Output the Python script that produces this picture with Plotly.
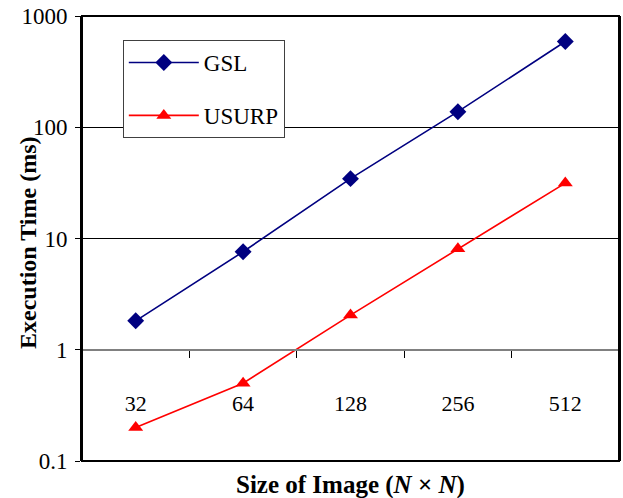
import plotly.graph_objects as go

categories = ["32", "64", "128", "256", "512"]
gsl = [1.82, 7.6, 34.5, 138, 590]
usurp = [0.2, 0.5, 2.05, 8.1, 31.5]
y_tickvals = [0.1, 1, 10, 100, 1000]
y_ticktext = ["0.1", "1", "10", "100", "1000"]

FONT = "Liberation Serif, Times New Roman, serif"

fig = go.Figure()
fig.add_trace(go.Scatter(
    x=categories, y=gsl, name="GSL", mode="lines+markers",
    line=dict(color="#000080", width=1.6),
    marker=dict(symbol="diamond", size=13, color="#000080"),
    legendgroup="a",
))
fig.add_trace(go.Scatter(
    x=categories, y=usurp, name="USURP", mode="lines+markers",
    line=dict(color="#FF0000", width=1.6),
    marker=dict(symbol="triangle-up", size=13, color="#FF0000"),
    legendgroup="b",
))

fig.update_layout(
    width=623, height=498,
    margin=dict(l=82, r=4, t=16, b=37, autoexpand=False),
    paper_bgcolor="white", plot_bgcolor="white",
    font=dict(family=FONT, size=22, color="black"),
    showlegend=True,
    legend=dict(
        x=0.076, y=0.946, xanchor="left", yanchor="top",
        bgcolor="white", bordercolor="#404040", borderwidth=1,
        font=dict(family=FONT, size=23, color="black"),
        tracegroupgap=20,
        itemwidth=70,
    ),
    xaxis=dict(
        type="category", range=[-0.5, 4.5],
        anchor="free", position=0.25, automargin=False,
        showline=True, linecolor="#808080", linewidth=2,
        ticks="outside", tickson="boundaries", ticklen=7, tickcolor="black", tickwidth=1,
        ticklabelstandoff=34,
        tickfont=dict(family=FONT, size=22),
        showgrid=False, zeroline=False,
    ),
    yaxis=dict(
        type="log", range=[-1, 3], automargin=False,
        tickvals=y_tickvals, ticktext=y_ticktext,
        showline=True, linecolor="black", linewidth=2, mirror=True,
        ticks="outside", ticklen=5, tickcolor="black",
        ticklabelstandoff=3,
        tickfont=dict(family=FONT, size=23),
        showgrid=True, gridcolor="black", gridwidth=1,
        zeroline=False,
    ),
    annotations=[
        dict(text="<b>Execution Time (ms)</b>", xref="paper", yref="paper",
             x=-54 / 537, y=0.49, xanchor="center", yanchor="middle",
             textangle=-90, showarrow=False, font=dict(family=FONT, size=24)),
        dict(text="<b>Size of Image (<i>N</i> × <i>N</i>)</b>", xref="paper", yref="paper",
             x=0.5, y=-24 / 445, xanchor="center", yanchor="middle",
             showarrow=False, font=dict(family=FONT, size=25)),
    ],
    shapes=[dict(type="rect", xref="paper", yref="paper", x0=0, x1=1, y0=0, y1=1,
                 line=dict(color="black", width=2), fillcolor="rgba(0,0,0,0)", layer="above")],
)

fig.write_html("out.html", config={"displayModeBar": False},
               post_script="document.body.style.margin='0px';")
